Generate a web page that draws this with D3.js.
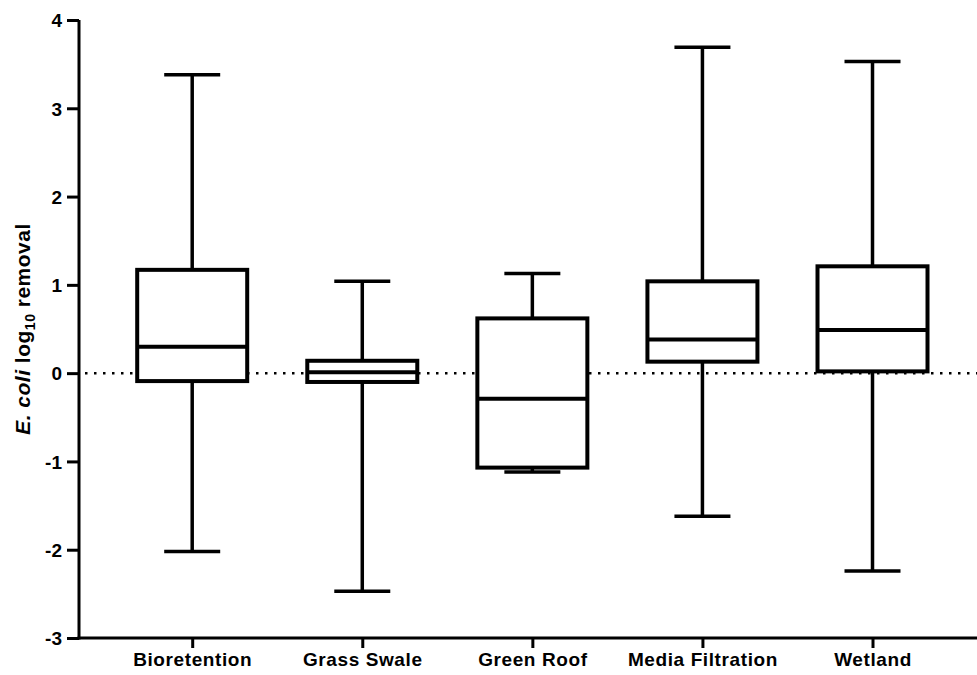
<!DOCTYPE html>
<html>
<head>
<meta charset="utf-8">
<script src="https://cdn.jsdelivr.net/npm/d3@7"></script>
<style>
  body { margin: 0; background: #fff; overflow: hidden; }
  svg { display: block; }
  text { font-family: "Liberation Sans", Arial, sans-serif; font-weight: bold; fill: #000; }
</style>
</head>
<body>
<div id="chart"></div>
<script>
// Data (log10 removal)
const categories = ['Bioretention', 'Grass Swale', 'Green Roof', 'Media Filtration', 'Wetland'];
const mins    = [-2.02, -2.47, -1.12, -1.62, -2.24];
const q1s     = [-0.09, -0.10, -1.07,  0.13,  0.02];
const medians = [ 0.30,  0.01, -0.29,  0.38,  0.49];
const q3s     = [ 1.17,  0.14,  0.62,  1.04,  1.21];
const maxs    = [ 3.38,  1.04,  1.13,  3.69,  3.53];
const yTicks  = [-3, -2, -1, 0, 1, 2, 3, 4];

const width = 977, height = 675;
const margins = { top: 20, right: 0, left: 79, bottom: 37 };
const innerWidth = width - margins.left - margins.right;
const innerHeight = height - margins.top - margins.bottom;

const data = categories.map((c, i) => ({
  cat: c, min: mins[i], q1: q1s[i], med: medians[i], q3: q3s[i], max: maxs[i]
}));

const xScale = d3.scalePoint()
  .domain(categories)
  .range([0, innerWidth])
  .padding(0.64)
  .align(0.52);

const yScale = d3.scaleLinear()
  .domain([-3, 4])
  .range([innerHeight, 0]);

const boxW = 110, capW = 56;

const svg = d3.select('#chart')
  .append('svg')
  .attr('width', width)
  .attr('height', height);

const g = svg.append('g')
  .attr('transform', `translate(${margins.left}, ${margins.top})`);

// dotted zero line, boxes paint over it
g.append('line')
  .attr('x1', 6)
  .attr('x2', innerWidth)
  .attr('y1', yScale(0))
  .attr('y2', yScale(0))
  .attr('stroke', '#000')
  .attr('stroke-width', 2.5)
  .attr('stroke-dasharray', '2.5,6.5');

const boxes = g.selectAll('g.box')
  .data(data)
  .enter()
  .append('g')
  .attr('class', 'box')
  .attr('transform', d => `translate(${xScale(d.cat)},0)`);

// whisker stems
boxes.append('line')
  .attr('x1', 0).attr('x2', 0)
  .attr('y1', d => yScale(d.max))
  .attr('y2', d => yScale(d.min))
  .attr('stroke', '#000')
  .attr('stroke-width', 3.5);

// caps
boxes.selectAll('line.cap')
  .data(d => [d.max, d.min])
  .enter()
  .append('line')
  .attr('class', 'cap')
  .attr('x1', -capW / 2).attr('x2', capW / 2)
  .attr('y1', v => yScale(v))
  .attr('y2', v => yScale(v))
  .attr('stroke', '#000')
  .attr('stroke-width', 3.5);

boxes.append('rect')
  .attr('x', -boxW / 2)
  .attr('width', boxW)
  .attr('y', d => yScale(d.q3))
  .attr('height', d => yScale(d.q1) - yScale(d.q3))
  .attr('fill', '#fff')
  .attr('stroke', '#000')
  .attr('stroke-width', 4);

boxes.append('line')
  .attr('x1', -boxW / 2).attr('x2', boxW / 2)
  .attr('y1', d => yScale(d.med))
  .attr('y2', d => yScale(d.med))
  .attr('stroke', '#000')
  .attr('stroke-width', 4);

// Axes
const yAxis = d3.axisLeft(yScale)
  .tickValues(yTicks)
  .tickFormat(d => String(d))
  .tickSize(12)
  .tickPadding(5);

const yG = g.append('g').call(yAxis);
yG.select('.domain').attr('stroke-width', 3).attr('d', `M0,${innerHeight + 1.5}V0`);
yG.selectAll('.tick line').attr('stroke-width', 3);
yG.selectAll('.tick text').style('font-size', '19px').attr('dy', '0.36em');

const xAxis = d3.axisBottom(xScale)
  .tickSize(10)
  .tickPadding(5);

const xG = g.append('g')
  .attr('transform', `translate(0,${innerHeight})`)
  .call(xAxis);
xG.select('.domain').attr('stroke-width', 3).attr('d', `M-1.5,0H${innerWidth}`);
xG.selectAll('.tick line').attr('stroke-width', 3);
xG.selectAll('.tick text')
  .style('font-size', '19px')
  .style('letter-spacing', '0.6px');

// Y label
const yLabel = svg.append('text')
  .attr('transform', `translate(30, ${margins.top + yScale(0.5)}) rotate(-90)`)
  .attr('text-anchor', 'middle')
  .style('font-size', '21px')
  .style('letter-spacing', '0.5px');
yLabel.append('tspan').style('font-style', 'italic').text('E. coli');
yLabel.append('tspan').text(' log');
yLabel.append('tspan').attr('dy', 5).style('font-size', '14px').text('10');
yLabel.append('tspan').attr('dy', -5).text(' removal');
</script>
</body>
</html>
